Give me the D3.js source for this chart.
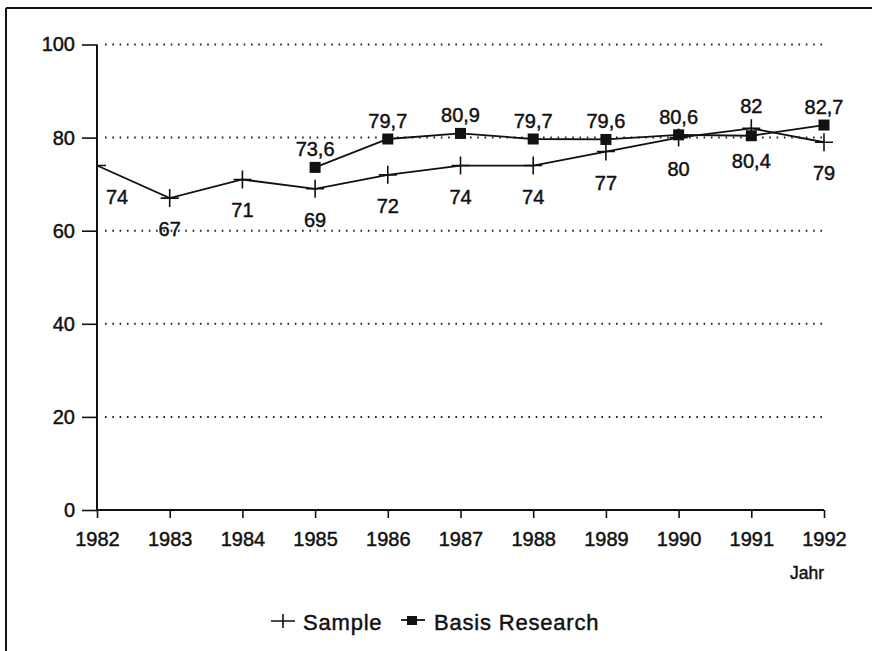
<!DOCTYPE html>
<html>
<head>
<meta charset="utf-8">
<script src="https://cdn.jsdelivr.net/npm/d3@7/dist/d3.min.js"></script>
<style>
  html, body { margin: 0; padding: 0; background: #fff; }
  svg { display: block; font-family: "Liberation Sans", Arial, Helvetica, sans-serif; }
  svg text { stroke: #111; stroke-width: 0.45px; }
</style>
</head>
<body>
<svg id="chart" width="872" height="651"></svg>
<script>
const years = [1982, 1983, 1984, 1985, 1986, 1987, 1988, 1989, 1990, 1991, 1992];
const sampleValues = [74, 67, 71, 69, 72, 74, 74, 77, 80, 82, 79];
const basisYears = [1985, 1986, 1987, 1988, 1989, 1990, 1991, 1992];
const basisValues = [73.6, 79.7, 80.9, 79.7, 79.6, 80.6, 80.4, 82.7];
const yTicks = [0, 20, 40, 60, 80, 100];
const seriesNames = ["Sample", "Basis Research"];
const xTitle = "Jahr";

const svg = d3.select("#chart");
const W = 872, H = 651;

// frame (top and left edges)
svg.append("line").attr("x1", 6).attr("x2", W).attr("y1", 8).attr("y2", 8)
  .attr("stroke", "#111").attr("stroke-width", 2);
svg.append("line").attr("x1", 6).attr("x2", 6).attr("y1", 8).attr("y2", H)
  .attr("stroke", "#111").attr("stroke-width", 2);

const x = d3.scaleLinear().domain([1982, 1992]).range([97, 824]);
const y = d3.scaleLinear().domain([0, 100]).range([510, 44.5]);

const fmt = v => String(v).replace(".", ",");

// gridlines
svg.append("g").selectAll("line").data(yTicks.filter(d => d > 0)).join("line")
  .attr("x1", x(1982) + 8).attr("x2", x(1992))
  .attr("y1", d => y(d)).attr("y2", d => y(d))
  .attr("stroke", "#222").attr("stroke-width", 2)
  .attr("stroke-dasharray", "1.6,5.7");

// y axis
const yAxis = d3.axisLeft(y).tickValues(yTicks).tickSize(15).tickPadding(7).tickFormat(d3.format("d"));
const gy = svg.append("g").attr("transform", `translate(${x(1982)},0)`).call(yAxis);
gy.select(".domain").remove();
gy.append("line").attr("x1", 0).attr("x2", 0).attr("y1", y(100)).attr("y2", y(0))
  .attr("stroke", "#111").attr("stroke-width", 2);
gy.selectAll(".tick line").attr("stroke", "#111").attr("stroke-width", 1.6);
gy.selectAll(".tick text").attr("font-size", 20).attr("fill", "#111")
  .attr("font-family", "Liberation Sans, Arial, sans-serif");

// x axis
const xAxis = d3.axisBottom(x).tickValues(years).tickSize(8).tickPadding(14).tickFormat(d3.format("d"));
const gx = svg.append("g").attr("transform", `translate(0,${y(0)})`).call(xAxis);
gx.select(".domain").remove();
gx.append("line").attr("x1", x(1982)).attr("x2", x(1992)).attr("y1", 0).attr("y2", 0)
  .attr("stroke", "#111").attr("stroke-width", 2);
gx.selectAll(".tick line").attr("stroke", "#111").attr("stroke-width", 1.6);
gx.selectAll(".tick text").attr("font-size", 20).attr("fill", "#111")
  .attr("font-family", "Liberation Sans, Arial, sans-serif");

svg.append("text").attr("x", x(1992)).attr("y", 579).attr("text-anchor", "end")
  .attr("font-size", 17.5).attr("fill", "#111").text(xTitle);

// clip for markers
svg.append("clipPath").attr("id", "plotclip").append("rect")
  .attr("x", x(1982)).attr("y", 0).attr("width", x(1992) - x(1982) + 20).attr("height", y(0));

const sampleData = years.map((yr, i) => ({ yr, v: sampleValues[i] }));
const basisData = basisYears.map((yr, i) => ({ yr, v: basisValues[i] }));
const basisAt = new Map(basisData.map(d => [d.yr, d.v]));

const line = d3.line().x(d => x(d.yr)).y(d => y(d.v));

svg.append("path").datum(sampleData).attr("d", line)
  .attr("fill", "none").attr("stroke", "#111").attr("stroke-width", 1.8);
svg.append("path").datum(basisData).attr("d", line)
  .attr("fill", "none").attr("stroke", "#111").attr("stroke-width", 1.8);

// sample markers (crosses)
const cs = 9;
const gm = svg.append("g").attr("clip-path", "url(#plotclip)");
gm.selectAll("path.cross").data(sampleData).join("path")
  .attr("d", d => `M${x(d.yr) - cs},${y(d.v)}H${x(d.yr) + cs}M${x(d.yr)},${y(d.v) - cs}V${y(d.v) + cs}`)
  .attr("stroke", "#111").attr("stroke-width", 1.6).attr("fill", "none");

// basis markers (squares)
const sq = 11;
svg.selectAll("rect.sq").data(basisData).join("rect")
  .attr("x", d => x(d.yr) - sq / 2).attr("y", d => y(d.v) - sq / 2)
  .attr("width", sq).attr("height", sq).attr("fill", "#111");

// labels
const sampleAbove = d => basisAt.has(d.yr) && d.v > basisAt.get(d.yr);
svg.selectAll("text.sl").data(sampleData).join("text")
  .attr("x", (d, i) => x(d.yr) + (i === 0 ? 20 : 0))
  .attr("y", d => sampleAbove(d) ? y(d.v) - 15 : y(d.v) + 38)
  .attr("text-anchor", "middle").attr("font-size", 20).attr("fill", "#111")
  .text(d => fmt(d.v));

svg.selectAll("text.bl").data(basisData).join("text")
  .attr("x", d => x(d.yr))
  .attr("y", d => {
    const s = sampleValues[years.indexOf(d.yr)];
    return s > d.v ? y(d.v) + 32 : y(d.v) - 11;
  })
  .attr("text-anchor", "middle").attr("font-size", 20).attr("fill", "#111")
  .text(d => fmt(d.v));

// legend
const lg = svg.append("g");
lg.append("path").attr("d", "M271,621H295M283,614V628")
  .attr("stroke", "#111").attr("stroke-width", 1.6).attr("fill", "none");
lg.append("text").attr("x", 303).attr("y", 630).attr("font-size", 22)
  .attr("letter-spacing", 0.8).attr("fill", "#111").text(seriesNames[0]);
lg.append("line").attr("x1", 401).attr("x2", 425).attr("y1", 620).attr("y2", 620)
  .attr("stroke", "#111").attr("stroke-width", 1.8);
lg.append("rect").attr("x", 407).attr("y", 616).attr("width", 10).attr("height", 9).attr("fill", "#111");
lg.append("text").attr("x", 434).attr("y", 630).attr("font-size", 22)
  .attr("letter-spacing", 0.8).attr("fill", "#111").text(seriesNames[1]);
</script>
</body>
</html>
